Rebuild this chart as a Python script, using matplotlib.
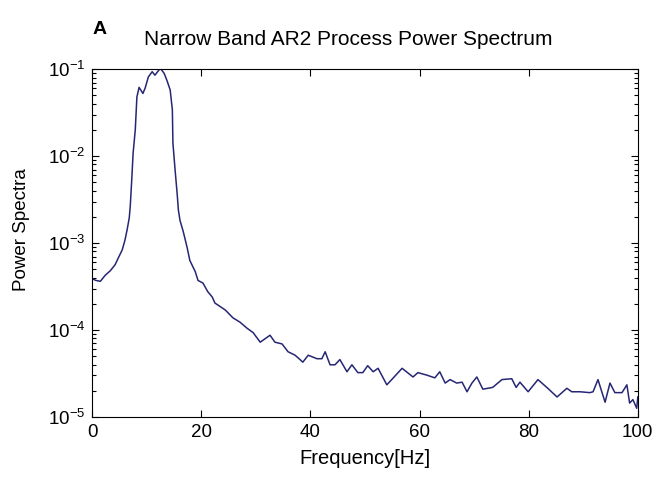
import numpy as np
import matplotlib
matplotlib.use("Agg")
import matplotlib.pyplot as plt
from matplotlib.ticker import LogLocator, MultipleLocator

plt.rcParams['font.family'] = ['Liberation Sans', 'DejaVu Sans']
plt.rcParams['mathtext.default'] = 'regular'

# Frequency [Hz] and log10 of power
freq_hz = [0.0, 0.7, 1.5, 2.4, 3.3, 4.2, 4.8, 5.5, 6.0, 6.4, 6.8, 7.0, 7.3, 7.5, 7.9,
           8.2, 8.6, 9.3, 9.7, 10.3, 11.0, 11.5, 12.5, 13.2, 13.7, 14.3, 14.7, 14.8,
           15.2, 15.6, 15.8, 16.1, 16.7, 17.4, 17.9, 18.9, 19.4, 20.3, 21.2, 22.0,
           22.5, 24.4, 25.8, 27.1, 28.4, 29.5, 30.8, 31.7, 32.6, 33.5, 34.8, 35.9,
           37.2, 38.1, 38.6, 39.6, 41.2, 42.1, 42.7, 43.6, 44.5, 45.4, 46.7, 47.6,
           48.7, 49.6, 50.5, 51.5, 52.4, 54.0, 54.9, 56.8, 58.8, 59.7, 61.4, 62.8,
           63.7, 64.7, 65.6, 66.8, 67.8, 68.7, 69.6, 70.5, 71.6, 73.4, 75.1, 76.9,
           77.7, 78.4, 79.9, 81.7, 83.5, 85.2, 87.0, 87.9, 89.4, 91.2, 91.8, 92.7,
           94.0, 94.9, 95.8, 97.1, 98.0, 98.5, 99.1, 99.8, 100.0]
log_power = [-3.41, -3.43, -3.44, -3.37, -3.32, -3.25, -3.17, -3.08, -2.97, -2.85, -2.71,
             -2.56, -2.22, -1.97, -1.70, -1.32, -1.21, -1.28, -1.22, -1.09, -1.03, -1.07,
             -0.99, -1.05, -1.13, -1.24, -1.47, -1.85, -2.16, -2.45, -2.62, -2.74, -2.87,
             -3.05, -3.20, -3.33, -3.43, -3.46, -3.56, -3.62, -3.69, -3.77, -3.86, -3.91,
             -3.98, -4.03, -4.14, -4.10, -4.06, -4.14, -4.16, -4.25, -4.29, -4.34, -4.37,
             -4.29, -4.33, -4.33, -4.25, -4.40, -4.40, -4.34, -4.48, -4.40, -4.49, -4.49,
             -4.41, -4.48, -4.44, -4.63, -4.57, -4.44, -4.54, -4.49, -4.52, -4.55, -4.48,
             -4.61, -4.57, -4.61, -4.60, -4.71, -4.61, -4.54, -4.68, -4.66, -4.57, -4.56,
             -4.66, -4.60, -4.71, -4.57, -4.67, -4.77, -4.67, -4.71, -4.71, -4.72, -4.71,
             -4.57, -4.83, -4.61, -4.72, -4.72, -4.63, -4.84, -4.80, -4.90, -4.77]

power = 10.0 ** np.array(log_power)

fig = plt.figure(figsize=(6.63, 4.90), dpi=100)
ax = fig.add_axes([0.139, 0.149, 0.823, 0.710])

ax.plot(freq_hz, power, color='#262673', linewidth=1.1)

ax.set_yscale('log')
ax.set_xlim(0, 100)
ax.set_ylim(1e-5, 1e-1)
ax.xaxis.set_major_locator(MultipleLocator(20))
ax.yaxis.set_major_locator(LogLocator(base=10, numticks=10))
ax.yaxis.set_minor_locator(LogLocator(base=10, subs=np.arange(2, 10), numticks=10))

ax.tick_params(which='both', direction='in', top=True, right=True, labelsize=13.5)
ax.tick_params(which='major', length=5, width=0.8, pad=5)
ax.tick_params(which='minor', length=3, width=0.8)
for s in ax.spines.values():
    s.set_linewidth(0.8)

ax.set_xlabel('Frequency[Hz]', fontsize=14.5, labelpad=6)
fig.text(22 / 663, 1 - 230 / 490, 'Power Spectra', fontsize=13.5,
         rotation=90, ha='center', va='center')

# title sits slightly left of the axes centre in the reference
fig.text(348 / 663, 1 - 45 / 490, 'Narrow Band AR2 Process Power Spectrum',
         fontsize=15, ha='center', va='baseline')
fig.text(93 / 663, 1 - 34 / 490, 'A', fontsize=14, fontweight='bold',
         ha='left', va='baseline')

fig.savefig('out.png', dpi=100)
